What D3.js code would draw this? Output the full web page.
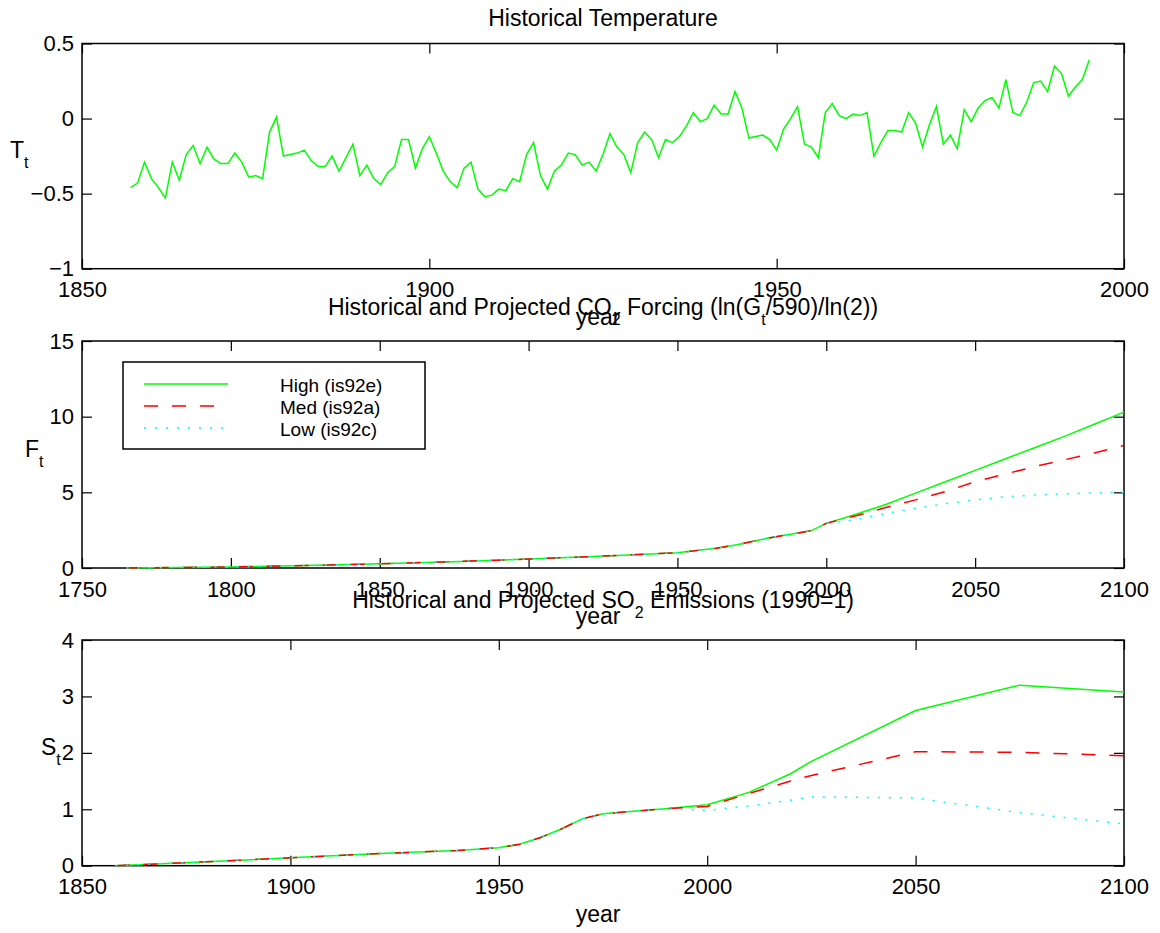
<!DOCTYPE html>
<html>
<head>
<meta charset="utf-8">
<script src="https://cdn.jsdelivr.net/npm/d3@7"></script>
<style>
body { margin: 0; background: #fff; }
svg text { font-family: "Liberation Sans", Arial, Helvetica, sans-serif; fill: #000; }
</style>
</head>
<body>
<script>
// ---- data ----
var tempYears = d3.range(1857, 1996);
var tempValues = [
    -0.46, -0.43, -0.29,
    -0.40, -0.46, -0.53, -0.29, -0.41, -0.24, -0.18, -0.30, -0.19, -0.27,
    -0.30, -0.30, -0.23, -0.29, -0.39, -0.38, -0.40, -0.09, 0.01, -0.25,
    -0.24, -0.23, -0.21, -0.28, -0.32, -0.32, -0.25, -0.35, -0.26, -0.17,
    -0.38, -0.31, -0.40, -0.44, -0.36, -0.32, -0.14, -0.14, -0.33, -0.20,
    -0.12, -0.23, -0.35, -0.42, -0.46, -0.33, -0.29, -0.47, -0.52, -0.51,
    -0.47, -0.48, -0.40, -0.42, -0.24, -0.16, -0.38, -0.47, -0.35, -0.31,
    -0.23, -0.24, -0.31, -0.29, -0.35, -0.24, -0.10, -0.19, -0.24, -0.36,
    -0.16, -0.09, -0.14, -0.26, -0.14, -0.16, -0.12, -0.05, 0.04, -0.02,
    0.00, 0.09, 0.03, 0.03, 0.18, 0.07, -0.13, -0.12, -0.11, -0.14,
    -0.21, -0.07, 0.00, 0.08, -0.17, -0.19, -0.26, 0.04, 0.10, 0.02,
    0.00, 0.03, 0.02, 0.04, -0.25, -0.16, -0.08, -0.08, -0.09, 0.04,
    -0.03, -0.19, -0.04, 0.08, -0.17, -0.11, -0.20, 0.06, -0.02, 0.07,
    0.12, 0.14, 0.07, 0.26, 0.04, 0.02, 0.11, 0.24, 0.25, 0.18,
    0.35, 0.30, 0.15, 0.21, 0.26, 0.39
];

var co2HistYears = [1765, 1800, 1825, 1850, 1875, 1900, 1930, 1950, 1963, 1970, 1980, 1990, 1995];
var co2Hist = [0.0, 0.07, 0.16, 0.28, 0.42, 0.59, 0.83, 1.01, 1.30, 1.53, 1.96, 2.30, 2.47];
var co2ProjYears = [2000, 2010, 2020, 2030, 2040, 2050, 2060, 2070, 2080, 2090, 2100];
var co2High = [2.95, 3.55, 4.20, 4.95, 5.70, 6.45, 7.20, 7.95, 8.70, 9.50, 10.30];
var co2Med = [2.95, 3.45, 4.00, 4.50, 5.05, 5.70, 6.20, 6.70, 7.15, 7.60, 8.10];
var co2Low = [2.95, 3.20, 3.60, 3.95, 4.25, 4.50, 4.70, 4.82, 4.90, 4.97, 5.00];

var so2HistYears = [1858, 1880, 1900, 1920, 1940, 1950, 1955, 1960, 1965, 1970, 1975, 1980, 1990];
var so2Hist = [0.0, 0.07, 0.14, 0.21, 0.27, 0.32, 0.38, 0.50, 0.65, 0.83, 0.92, 0.95, 1.01];
var so2ProjYears = [2000, 2010, 2020, 2025, 2050, 2075, 2100];
var so2High = [1.08, 1.30, 1.63, 1.85, 2.75, 3.20, 3.08];
var so2Med = [1.05, 1.28, 1.50, 1.60, 2.02, 2.01, 1.95];
var so2Low = [0.98, 1.06, 1.16, 1.22, 1.20, 0.94, 0.74];

var legendLabels = ["High (is92e)", "Med (is92a)", "Low (is92c)"];

// ---- layout ----
var W = 1160, H = 933;
var left = 82, right = 1124;

var styles = [
    { color: "#00ff00", dash: null },
    { color: "#ff0000", dash: "14,14" },
    { color: "#00ffff", dash: "2,9" }
];

var svg = d3.select("body").append("svg")
    .attr("width", W)
    .attr("height", H);

// zip helper: pairs years with values
function pairs(xs, ys) {
    return xs.map(function (d, i) { return [d, ys[i]]; });
}

function drawPanel(opt) {
    var g = svg.append("g");
    var x = d3.scaleLinear().domain(opt.xDomain).range([left, right]);
    var y = d3.scaleLinear().domain(opt.yDomain).range([opt.bottom, opt.top]);
    var fmt = d3.format("~g");

    //bottom axis with labels, ticks pointing inside
    g.append("g")
        .attr("transform", "translate(0," + opt.bottom + ")")
        .call(d3.axisBottom(x).tickValues(opt.xTicks).tickFormat(fmt)
            .tickSizeInner(-10).tickSizeOuter(0).tickPadding(13))
        .call(styleAxis);
    g.append("g")
        .attr("transform", "translate(0," + opt.top + ")")
        .call(d3.axisTop(x).tickValues(opt.xTicks).tickFormat("")
            .tickSizeInner(-10).tickSizeOuter(0))
        .call(styleAxis);
    g.append("g")
        .attr("transform", "translate(" + left + ",0)")
        .call(d3.axisLeft(y).tickValues(opt.yTicks).tickFormat(fmt)
            .tickSizeInner(-10).tickSizeOuter(0).tickPadding(8))
        .call(styleAxis);
    g.append("g")
        .attr("transform", "translate(" + right + ",0)")
        .call(d3.axisRight(y).tickValues(opt.yTicks).tickFormat("")
            .tickSizeInner(-10).tickSizeOuter(0))
        .call(styleAxis);

    //box
    g.append("rect")
        .attr("x", left)
        .attr("y", opt.top)
        .attr("width", right - left)
        .attr("height", opt.bottom - opt.top)
        .attr("fill", "none")
        .attr("stroke", "#000")
        .attr("stroke-width", 1.5);

    var line = d3.line()
        .x(function (d) { return x(d[0]); })
        .y(function (d) { return y(d[1]); });

    opt.series.forEach(function (s, i) {
        g.append("path")
            .datum(s)
            .attr("d", line)
            .attr("fill", "none")
            .attr("stroke", styles[i].color)
            .attr("stroke-width", 1.5)
            .attr("stroke-dasharray", styles[i].dash);
    });

    //title
    richText(g, (left + right) / 2, opt.titleY, opt.title, 23, "middle");
    //x label
    g.append("text")
        .attr("x", (left + right) / 2 - 5)
        .attr("y", opt.bottom + 56)
        .attr("text-anchor", "middle")
        .style("font-size", "23px")
        .text("year");
    //y label
    richText(g, opt.yLabelX, (opt.top + opt.bottom) / 2 + 2, opt.yLabel, 23, "start");
    return { x: x, y: y, g: g };
}

function styleAxis(sel) {
    sel.select(".domain").remove();
    sel.selectAll(".tick line").attr("stroke", "#000").attr("stroke-width", 1.2);
    sel.selectAll(".tick text").style("font-size", "22px").style("font-family", "Liberation Sans, Arial, sans-serif");
}

//text with subscripts: parts = [[str, isSub], ...]
function richText(g, x, y, parts, size, anchor) {
    var t = g.append("text")
        .attr("x", x)
        .attr("y", y)
        .attr("text-anchor", anchor)
        .style("font-size", size + "px");
    var shift = 0;
    parts.forEach(function (p) {
        var target = p[1] ? 10 : 0;
        t.append("tspan")
            .attr("dy", target - shift)
            .style("font-size", (p[1] ? 16 : size) + "px")
            .text(p[0]);
        shift = target;
    });
}

// ---- panel 1: temperature ----
drawPanel({
    top: 43.5, bottom: 268.7,
    xDomain: [1850, 2000], yDomain: [-1, 0.5],
    xTicks: [1850, 1900, 1950, 2000], yTicks: [-1, -0.5, 0, 0.5],
    series: [pairs(tempYears, tempValues)],
    title: [["Historical Temperature", false]], titleY: 26,
    yLabel: [["T", false], ["t", true]], yLabelX: 10
});

// ---- panel 2: CO2 forcing ----
var co2Years = co2HistYears.concat(co2ProjYears);
var p2 = drawPanel({
    top: 341, bottom: 568,
    xDomain: [1750, 2100], yDomain: [0, 15],
    xTicks: [1750, 1800, 1850, 1900, 1950, 2000, 2050, 2100], yTicks: [0, 5, 10, 15],
    series: [
        pairs(co2Years, co2Hist.concat(co2High)),
        pairs(co2Years, co2Hist.concat(co2Med)),
        pairs(co2Years, co2Hist.concat(co2Low))
    ],
    title: [["Historical and Projected CO", false], ["2", true], [" Forcing (ln(G", false], ["t", true], ["/590)/ln(2))", false]],
    titleY: 315,
    yLabel: [["F", false], ["t", true]], yLabelX: 25
});

// legend
var lg = p2.g.append("g");
lg.append("rect")
    .attr("x", 123).attr("y", 362)
    .attr("width", 302).attr("height", 87)
    .attr("fill", "#fff")
    .attr("stroke", "#000")
    .attr("stroke-width", 1.5);
legendLabels.forEach(function (d, i) {
    var ly = 384 + i * 22;
    lg.append("line")
        .attr("x1", 144).attr("x2", 228)
        .attr("y1", ly).attr("y2", ly)
        .attr("stroke", styles[i].color)
        .attr("stroke-width", 1.5)
        .attr("stroke-dasharray", styles[i].dash);
    lg.append("text")
        .attr("x", 280)
        .attr("y", ly + 8)
        .style("font-size", "19px")
        .text(d);
});

// ---- panel 3: SO2 emissions ----
var so2Years = so2HistYears.concat(so2ProjYears);
drawPanel({
    top: 640, bottom: 865.7,
    xDomain: [1850, 2100], yDomain: [0, 4],
    xTicks: [1850, 1900, 1950, 2000, 2050, 2100], yTicks: [0, 1, 2, 3, 4],
    series: [
        pairs(so2Years, so2Hist.concat(so2High)),
        pairs(so2Years, so2Hist.concat(so2Med)),
        pairs(so2Years, so2Hist.concat(so2Low))
    ],
    title: [["Historical and Projected SO", false], ["2", true], [" Emissions (1990=1)", false]],
    titleY: 608,
    yLabel: [["S", false], ["t", true]], yLabelX: 41
});
</script>
</body>
</html>
